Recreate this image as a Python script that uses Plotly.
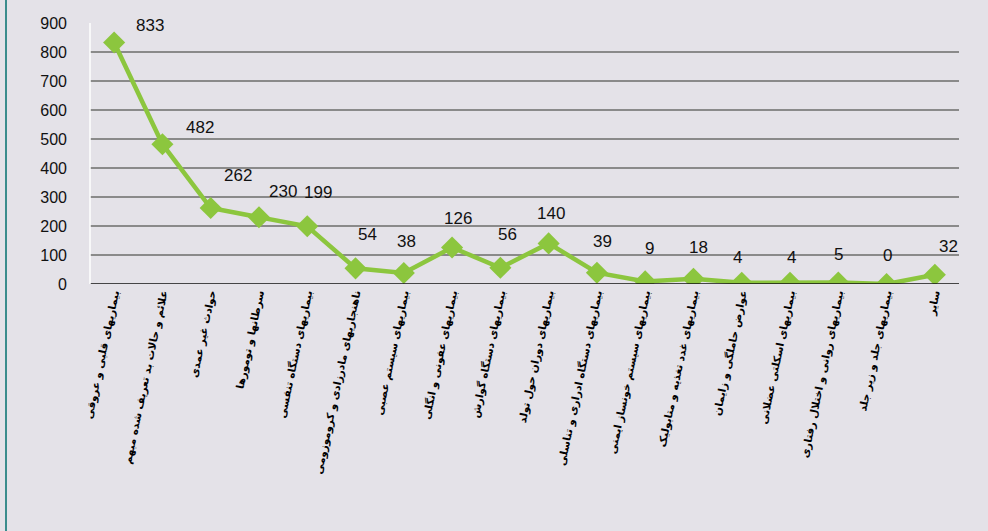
import plotly.graph_objects as go

categories = [
    "بیماریهای قلبی و عروقی",
    "علائم و حالات بد تعریف شده مبهم",
    "حوادث غیر عمدی",
    "سرطانها و تومورها",
    "بیماریهای دستگاه تنفسی",
    "ناهنجاریهای مادرزادی و کروموزومی",
    "بیماریهای سیستم عصبی",
    "بیماریهای عفونی و انگلی",
    "بیماریهای دستگاه گوارش",
    "بیماریهای دوران حول تولد",
    "بیماریهای دستگاه ادراری و تناسلی",
    "بیماریهای سیستم خونساز ایمنی",
    "بیماریهای غدد تغذیه و متابولیک",
    "عوارض حاملگی و زایمان",
    "بیماریهای اسکلتی عضلانی",
    "بیماریهای روانی و اختلال رفتاری",
    "بیماریهای جلد و زیر جلد",
    "سایر",
]
values = [833, 482, 262, 230, 199, 54, 38, 126, 56, 140, 39, 9, 18, 4, 4, 5, 0, 32]
y_ticks = [0, 100, 200, 300, 400, 500, 600, 700, 800, 900]

# label offsets in pixels (style only)
label_dx = [36, 38, 27, 24, 11, 12, 3, 6, 7, 2, 6, 4, 5, -4, 1, 0, 1, 14]
label_dy = [5, 5, 21, 14, 22, 22, 20, 17, 22, 18, 20, 21, 20, 14, 14, 17, 17, 17]

GREEN = "#8cc63e"

fig = go.Figure()
fig.add_trace(go.Scatter(
    x=list(range(len(categories))), y=values, mode="lines+markers",
    line=dict(color=GREEN, width=4.5),
    marker=dict(symbol="diamond", size=17, color=GREEN),
    hoverinfo="skip", showlegend=False,
))

for i, v in enumerate(values):
    fig.add_annotation(
        x=i, y=v, text=str(v), showarrow=False,
        xanchor="center", yanchor="bottom",
        xshift=label_dx[i], yshift=label_dy[i],
        font=dict(family="Liberation Sans, Arial", size=17, color="#111"),
    )

fig.update_xaxes(
    range=[-0.5, len(categories) - 0.5],
    tickmode="array", tickvals=list(range(len(categories))), ticktext=categories,
    tickangle=-78, showgrid=False, zeroline=False,
    showline=False, ticks="",
    tickfont=dict(family="DejaVu Sans", size=10.5, color="#000", weight="bold"),
)
fig.update_yaxes(
    range=[0, 900], tickmode="array", tickvals=y_ticks,
    showgrid=True, gridcolor="#8a8a8a", gridwidth=1.5,
    zeroline=False, showline=False, ticks="",
    ticklabelstandoff=22,
    tickfont=dict(family="Liberation Sans, Arial", size=16, color="#111"),
)

# baseline and left white border of plot
fig.add_shape(type="line", xref="paper", yref="y", x0=0, x1=1, y0=0, y1=0,
              line=dict(color="#111", width=1.5))
fig.add_shape(type="line", xref="paper", yref="paper", x0=0, x1=0, y0=0, y1=1,
              line=dict(color="#ffffff", width=1.5))
# teal frame line at left edge
fig.add_shape(type="line", xref="paper", yref="paper",
              x0=-84 / 869, x1=-84 / 869, y0=-247 / 261, y1=23 / 261 + 1,
              line=dict(color="#3b8c8c", width=2))

fig.update_layout(
    width=988, height=531,
    margin=dict(l=90, r=29, t=23, b=247),
    paper_bgcolor="#e4e2e8",
    plot_bgcolor="rgba(0,0,0,0)",
)

fig.write_html(
    "out.html",
    config={"displayModeBar": False},
    post_script="document.body.style.margin='0';document.body.style.overflow='hidden';",
)
